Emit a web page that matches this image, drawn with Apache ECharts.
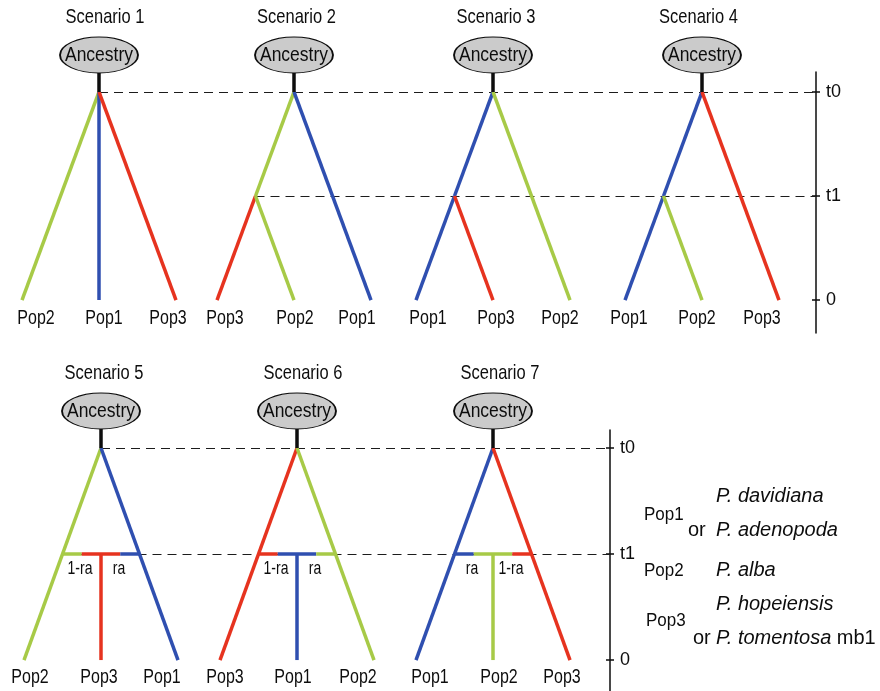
<!DOCTYPE html>
<html>
<head>
<meta charset="utf-8">
<script src="https://cdn.jsdelivr.net/npm/echarts@6/dist/echarts.min.js"></script>
<style>
  html, body { margin: 0; padding: 0; background: #fff; }
  #chart { width: 880px; height: 691px; }
</style>
</head>
<body>
<div id="chart"></div>
<script>
// ---- Data -------------------------------------------------------------
const scenarioNames = ['Scenario 1', 'Scenario 2', 'Scenario 3', 'Scenario 4',
                       'Scenario 5', 'Scenario 6', 'Scenario 7'];
const scenarioRow = [0, 0, 0, 0, 1, 1, 1];
// populations sampled at time 0, left to right
const tipOrder = [
  ['Pop2', 'Pop1', 'Pop3'],
  ['Pop3', 'Pop2', 'Pop1'],
  ['Pop1', 'Pop3', 'Pop2'],
  ['Pop1', 'Pop2', 'Pop3'],
  ['Pop2', 'Pop3', 'Pop1'],
  ['Pop3', 'Pop1', 'Pop2'],
  ['Pop1', 'Pop2', 'Pop3']
];
// star: all three lineages leave the ancestor at t0
// split: left and middle populations share one lineage until t1
// admix: middle population is founded at t1 by the two outer lineages
const eventType = ['star', 'split', 'split', 'split', 'admix', 'admix', 'admix'];
const sharedLineage = [null, 'Pop2', 'Pop1', 'Pop1', null, null, null];
const admixWeights = [null, null, null, null, ['1-ra', 'ra'], ['1-ra', 'ra'], ['ra', '1-ra']];
// time axis
const timeValues = { t0: 2, t1: 1, present: 0 };
const timeTickValues = [0, 1, 2];
const timeTickLabels = ['0', 't1', 't0'];
// sampled species
const legendPops = ['Pop1', 'Pop2', 'Pop3'];
const legendSpecies = [['P. davidiana', 'P. adenopoda'], ['P. alba'], ['P. hopeiensis', 'P. tomentosa']];
const legendSuffix = [['', ''], [''], ['', ' mb1']];

// ---- Styling / layout -------------------------------------------------
const popColors = { Pop1: '#2f4fb0', Pop2: '#a7ca47', Pop3: '#e6331f' };
const rows = [
  { top: 72,  height: 261, axisX: 816, min: -0.317, max: 2.192, tipLabelDrop: 18 },
  { top: 430, height: 261, axisX: 610, min: -0.292, max: 2.170, tipLabelDrop: 17 }
];
const panelCenter = [99, 294, 493, 702, 101, 297, 493];
const halfSpan = 77;
// horizontal nudges of the tip names and titles (px)
const tipLabelDx = [[14, 5, -8], [8, 1, -14], [12, 3, -10], [4, -5, -17],
                    [6, -2, -16], [5, -4, -16], [14, 6, -8]];
const titleDx = [6, 2.5, 3, -3.5, 3, 6, 7];
const ink = '#0d0d0d';
const sans = '"Liberation Sans", Arial, Helvetica, sans-serif';
// tall, tight lettering used inside the diagrams: [font size, vertical stretch]
const tallText = { title: [16.5, 1.27], node: [17.5, 1.2], tip: [16, 1.3], weight: [14, 1.3] };

// ---- Build ------------------------------------------------------------
const chart = echarts.init(document.getElementById('chart'), null, { renderer: 'canvas' });

const grids = [], xAxes = [], yAxes = [], series = [], textItems = [];

rows.forEach((r, ri) => {
  grids.push({ left: 0, top: r.top, width: r.axisX, height: r.height, containLabel: false });
  xAxes.push({ gridIndex: ri, type: 'value', min: 0, max: r.axisX, show: false });
  const base = {
    gridIndex: ri, type: 'value', min: r.min, max: r.max, position: 'right',
    splitLine: { show: false }
  };
  yAxes.push(Object.assign({}, base, {
    axisLine: { show: true, onZero: false, lineStyle: { color: ink, width: 1.5 } },
    axisTick: { show: true, inside: false, length: 4, customValues: timeTickValues,
                lineStyle: { color: ink, width: 1.5 } },
    axisLabel: { show: true, customValues: timeTickValues, margin: 10, color: ink,
      fontFamily: sans, fontSize: 18,
      formatter: v => timeTickLabels[timeTickValues.indexOf(Math.round(v))] }
  }));
  yAxes.push(Object.assign({}, base, {
    axisLine: { show: false, onZero: false },
    axisTick: { show: true, inside: true, length: 4, customValues: timeTickValues,
                lineStyle: { color: ink, width: 1.5 } },
    axisLabel: { show: false }
  }));
});

rows.forEach((r, ri) => {
  const unit = r.height / (r.max - r.min);   // px per time unit
  const px = p => p / unit;                  // px offset -> time offset
  const branches = [], stems = [], ancestors = [];
  let t1Start = Infinity;
  const t0Start = Math.min(...panelCenter.filter((c, i) => scenarioRow[i] === ri));
  const { t0, t1, present } = timeValues;
  const addText = (value, text, kind) => textItems.push({ grid: ri, value, text, kind });

  scenarioNames.forEach((name, i) => {
    if (scenarioRow[i] !== ri) return;
    const c = panelCenter[i];
    const tipX = [c - halfSpan, c, c + halfSpan];
    const pops = tipOrder[i];
    const col = p => popColors[p];
    const seg = (x1, y1, x2, y2, color) => branches.push({ coords: [[x1, y1], [x2, y2]], lineStyle: { color } });
    const frac = (t0 - t1) / (t0 - present);
    const xl = c - halfSpan * frac, xr = c + halfSpan * frac;

    if (eventType[i] === 'star') {
      pops.forEach((p, k) => seg(c, t0, tipX[k], present, col(p)));
    } else if (eventType[i] === 'split') {
      seg(c, t0, xl, t1, col(sharedLineage[i]));
      seg(xl, t1, tipX[0], present, col(pops[0]));
      seg(xl, t1, tipX[1], present, col(pops[1]));
      seg(c, t0, tipX[2], present, col(pops[2]));
      t1Start = Math.min(t1Start, xl);
    } else {
      seg(c, t0, tipX[0], present, col(pops[0]));
      seg(c, t0, tipX[2], present, col(pops[2]));
      const q = (xr - xl) / 4;
      seg(xl, t1, xl + q, t1, col(pops[0]));
      seg(xl + q, t1, xr - q, t1, col(pops[1]));
      seg(xr - q, t1, xr, t1, col(pops[2]));
      seg(c, t1, c, present, col(pops[1]));
      t1Start = Math.min(t1Start, xl);
      const w = admixWeights[i];
      addText([c - 21, t1 - px(15)], w[0], 'weight');
      addText([c + 18, t1 - px(15)], w[1], 'weight');
    }
    // ancestor stem, node and title
    stems.push({ coords: [[c, t0], [c, t0 + px(19)]], lineStyle: { color: ink } });
    ancestors.push({ value: [c, t0 + px(37)], name: 'Ancestry' });
    addText([c, t0 + px(37)], 'Ancestry', 'node');
    addText([c + titleDx[i], t0 + px(74.5)], name, 'title');
    pops.forEach((p, k) => addText([tipX[k] + tipLabelDx[i][k], present - px(r.tipLabelDrop)], p, 'tip'));
  });

  const dash = { color: '#1c1c1c', width: 1, type: [9, 6] };
  const dashed = [
    { coords: [[t0Start, timeValues.t0], [r.axisX, timeValues.t0]], lineStyle: dash },
    { coords: [[t1Start, timeValues.t1], [r.axisX, timeValues.t1]], lineStyle: dash }
  ];
  const common = { xAxisIndex: ri, yAxisIndex: ri * 2, silent: true, animation: false };

  series.push(Object.assign({}, common, {
    type: 'lines', coordinateSystem: 'cartesian2d', polyline: false, clip: false, z: 1,
    lineStyle: { opacity: 1 }, data: dashed
  }));
  series.push(Object.assign({}, common, {
    type: 'lines', coordinateSystem: 'cartesian2d', polyline: false, clip: false, z: 2,
    lineStyle: { width: 3.5, opacity: 1, cap: 'butt' }, data: branches.concat(stems)
  }));
  series.push(Object.assign({}, common, {
    type: 'scatter', clip: false, z: 3, symbol: 'circle', symbolSize: [78, 36],
    itemStyle: { color: '#cbcbcb', borderColor: ink, borderWidth: 1.3, opacity: 1 },
    label: { show: false }, emphasis: { disabled: true }, data: ancestors
  }));
});

chart.setOption({
  animation: false,
  backgroundColor: '#ffffff',
  grid: grids, xAxis: xAxes, yAxis: yAxes,
  series
});

// ---- Text: diagram labels placed through each row's axes -------------
const graphic = textItems.map(t => {
  const [x, y] = chart.convertToPixel({ xAxisIndex: t.grid, yAxisIndex: t.grid * 2 }, t.value);
  const [size, sy] = tallText[t.kind];
  return {
    type: 'text', x, y, scaleY: sy, z: 10, silent: true,
    style: { text: t.text, fill: ink, fontFamily: sans, fontSize: size,
             align: 'center', verticalAlign: 'middle' }
  };
});

// species key
const keyPopY = [515, 571, 621];
const keySpY = [[496, 530], [570], [604, 638]];
legendPops.forEach((p, i) => {
  graphic.push({ type: 'text', x: 644 + (i === 2 ? 2 : 0), y: keyPopY[i], scaleY: 1.1,
    style: { text: p, fill: ink, fontFamily: sans, fontSize: 17, verticalAlign: 'middle' } });
  legendSpecies[i].forEach((s, j) => {
    if (j > 0) {
      graphic.push({ type: 'text', x: i === 2 ? 693 : 688, y: keySpY[i][j],
        style: { text: 'or', fill: ink, fontFamily: sans, fontSize: 20, verticalAlign: 'middle' } });
    }
    graphic.push({ type: 'text', x: 716, y: keySpY[i][j],
      style: {
        text: '{i|' + s + '}' + (legendSuffix[i][j] ? '{n|' + legendSuffix[i][j] + '}' : ''),
        verticalAlign: 'middle',
        rich: {
          i: { fill: ink, fontStyle: 'italic', fontSize: 20, fontFamily: sans },
          n: { fill: ink, fontSize: 20, fontFamily: sans }
        }
      } });
  });
});

chart.setOption({ graphic });
</script>
</body>
</html>
